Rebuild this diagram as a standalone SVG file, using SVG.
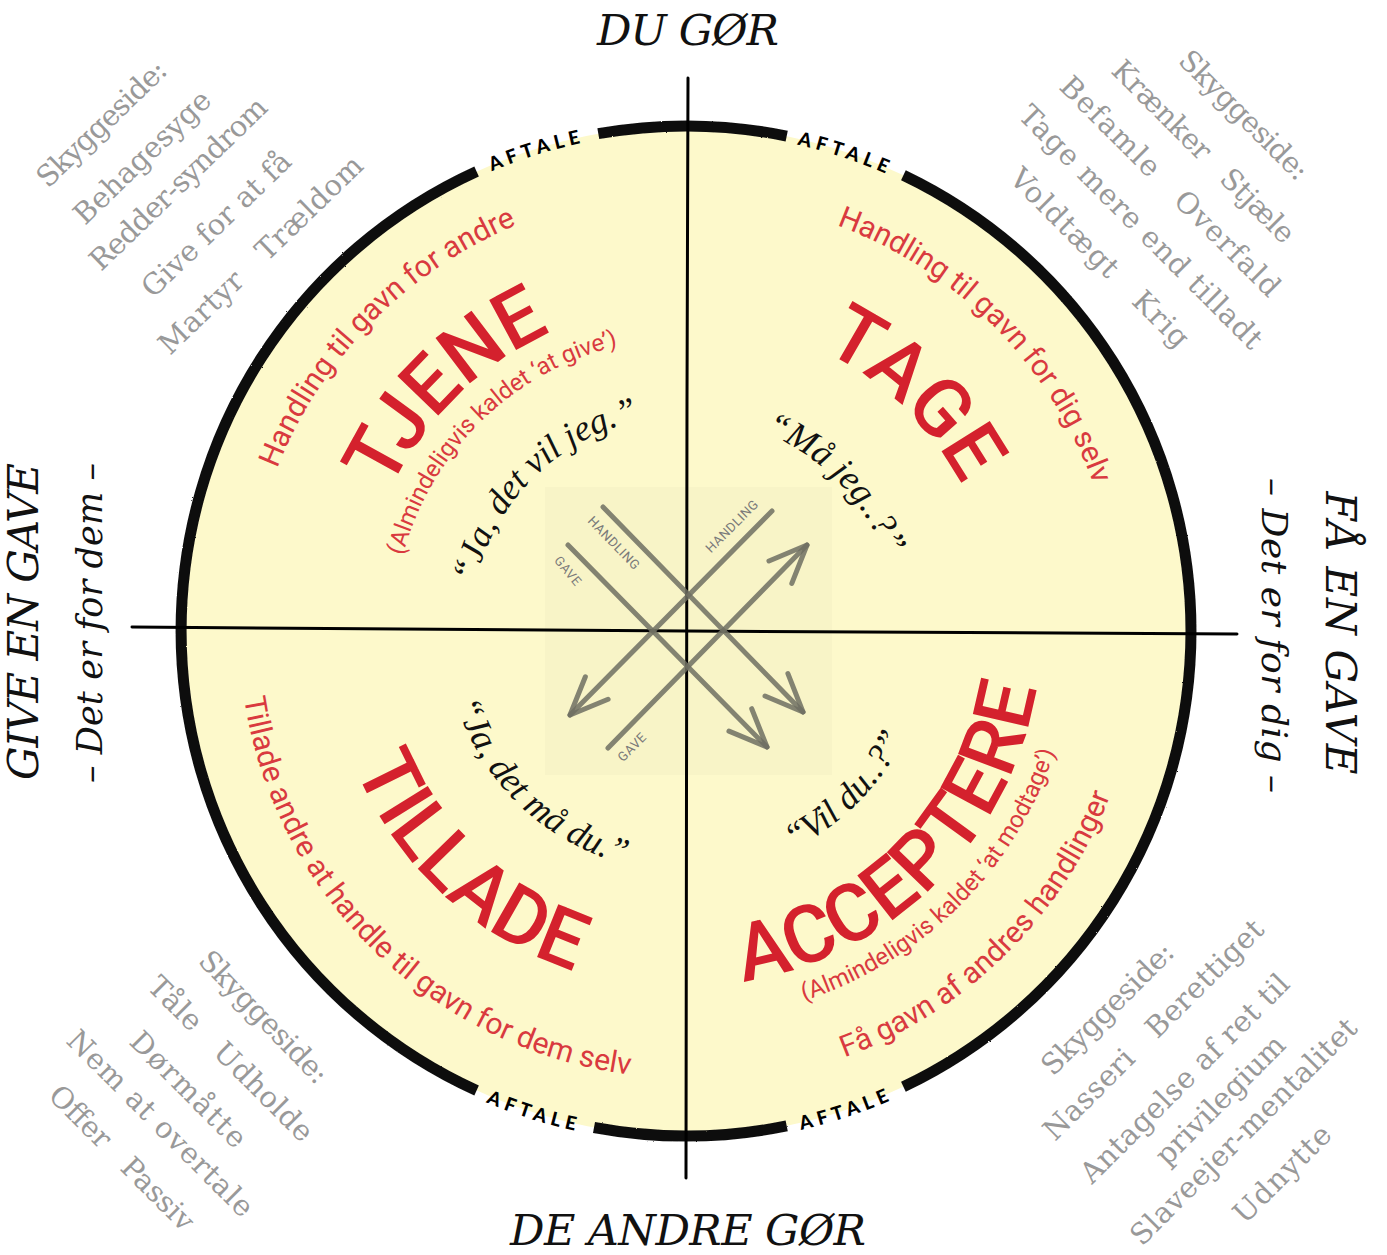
<svg xmlns="http://www.w3.org/2000/svg" width="1387" height="1255" viewBox="0 0 1387 1255">
<style>
.title{font-family:Roboto,"DejaVu Sans",sans-serif;font-weight:500;font-size:80px;fill:#d4212d}
.sub{font-family:Roboto,"DejaVu Sans",sans-serif;font-size:30px;fill:#d93a3f}
.paren{font-family:Roboto,"DejaVu Sans",sans-serif;font-size:24px;fill:#d93a3f}
.quote{font-family:"Liberation Serif",serif;font-style:italic;font-size:36px;fill:#111}
.head{font-family:"DejaVu Serif",serif;font-style:italic;fill:#111}
.gray{font-family:"DejaVu Serif",serif;font-size:29px;fill:#999}
.aftale{font-family:Lato,"DejaVu Sans",sans-serif;font-weight:900;font-size:19px;letter-spacing:5px;fill:#000}
.lbl{font-family:Roboto,sans-serif;font-size:13px;fill:#7a7a7a;letter-spacing:0.5px}
.ring{fill:none;stroke:#111;stroke-width:11}
.arrow{fill:none;stroke:#6f6f62;stroke-width:5;stroke-linecap:round;stroke-opacity:0.85}
.axis{fill:none;stroke:#000;stroke-width:3;stroke-linecap:round}
</style>
<defs>
<marker id="ah" markerUnits="userSpaceOnUse" markerWidth="60" markerHeight="60" viewBox="-50 -30 60 60" refX="0" refY="0" orient="auto" overflow="visible">
<path d="M-38,-16 L0,0 L-38,16" fill="none" stroke="#6f6f62" stroke-opacity="0.85" stroke-width="5" stroke-linecap="round" stroke-linejoin="round"/>
</marker>
<filter id="rough" x="-5%" y="-5%" width="110%" height="110%">
<feTurbulence type="fractalNoise" baseFrequency="0.8" numOctaves="1" seed="3"/>
<feDisplacementMap in="SourceGraphic" scale="2"/>
</filter>
<path id="pTjene" d="M368.45,713.12 A328,328 0 0 1 773.65,314.93"/>
<path id="pTage" d="M600,331.09 A312,312 0 0 1 988.73,706.48"/>
<path id="pTillade" d="M337.18,550.47 A358,358 0 0 0 790.67,973.36"/>
<path id="pAccept" d="M594.12,973.90 A355,355 0 0 0 1028.90,539.12"/>
<path id="pSubTL" d="M262,748.59 A440,440 0 0 1 796.17,205.01"/>
<path id="pParTL" d="M402.08,703.37 A293,293 0 0 1 765.29,348.93"/>
<path id="pSubTR" d="M576.12,212.17 A433,433 0 0 1 1103.65,745.26"/>
<path id="pSubBL" d="M252.85,520.59 A447,447 0 0 0 806.96,1061.32"/>
<path id="pParBR" d="M584.27,1005.43 A388,388 0 0 0 1061.13,531.89"/>
<path id="pSubBR" d="M565.17,1069.67 A455,455 0 0 0 1126.31,516.31"/>
<path id="pQTL" d="M477.36,686.91 A216,216 0 0 1 741.91,422.36"/>
<path id="pQTR" d="M632.67,424.78 A213,213 0 0 1 891.25,687.92"/>
<path id="pQBL" d="M451.86,573.92 A241,241 0 0 0 753.64,862.31"/>
<path id="pQBR" d="M622.29,865.50 A243,243 0 0 0 920.94,568.93"/>
<path id="pAfTL" d="M199.31,520.88 A499,499 0 0 1 1024.72,264.57"/>
<path id="pAfTR" d="M355.35,257.27 A499,499 0 0 1 1174.98,531.51"/>
<path id="pAfBL" d="M186.13,741.82 A512,512 0 0 0 1031.90,1008.49"/>
<path id="pAfBR" d="M346.74,1014.47 A512,512 0 0 0 1187.72,733.08"/>
</defs>
<rect width="1387" height="1255" fill="#fff"/>

<g id="disc">
<circle cx="686" cy="631" r="505" fill="#fdf9cb"/>
<rect x="545" y="487" width="287" height="288" fill="#d8d5b0" opacity="0.12"/>
<g filter="url(#rough)">
<path class="ring" d="M598.3,133.7 A505,505 0 0 1 786.7,136.1"/>
<path class="ring" d="M903.4,175.2 A505,505 0 0 1 903.4,1086.8"/>
<path class="ring" d="M786.7,1125.9 A505,505 0 0 1 594.0,1127.5"/>
<path class="ring" d="M476.6,1090.5 A505,505 0 0 1 476.6,171.5"/>
</g>
</g>

<g id="aftale-labels">
<text class="aftale" text-anchor="middle"><textPath href="#pAfTL" startOffset="50%">AFTALE</textPath></text>
<text class="aftale" text-anchor="middle"><textPath href="#pAfTR" startOffset="50%">AFTALE</textPath></text>
<text class="aftale" text-anchor="middle"><textPath href="#pAfBL" startOffset="50%">AFTALE</textPath></text>
<text class="aftale" text-anchor="middle"><textPath href="#pAfBR" startOffset="50%">AFTALE</textPath></text>
</g>

<g id="axes">
<path class="axis" d="M688,78 L687,400 L686,1178"/>
<path class="axis" d="M132,627 L686,631 L1237,634"/>
</g>

<g id="connectors">
<path class="arrow" d="M603,507 L803,712" marker-end="url(#ah)"/>
<path class="arrow" d="M568,545 L767,747" marker-end="url(#ah)"/>
<path class="arrow" d="M772,511 L570,715" marker-end="url(#ah)"/>
<path class="arrow" d="M608,748 L807,545" marker-end="url(#ah)"/>
<text class="lbl" text-anchor="middle" dy="0.35em" transform="translate(614,543) rotate(46)">HANDLING</text>
<text class="lbl" text-anchor="middle" dy="0.35em" transform="translate(568,571) rotate(50)">GAVE</text>
<text class="lbl" text-anchor="middle" dy="0.35em" transform="translate(732,526) rotate(-45)">HANDLING</text>
<text class="lbl" text-anchor="middle" dy="0.35em" transform="translate(632,747) rotate(-45)">GAVE</text>
</g>

<g id="tjene">
<text class="title" text-anchor="middle"><textPath href="#pTjene" startOffset="50%">TJENE</textPath></text>
<text class="sub" text-anchor="middle"><textPath href="#pSubTL" startOffset="50%">Handling til gavn for andre</textPath></text>
<text class="paren" text-anchor="middle"><textPath href="#pParTL" startOffset="50%">(Almindeligvis kaldet ‘at give’)</textPath></text>
<text class="quote" text-anchor="middle"><textPath href="#pQTL" startOffset="50%">“Ja, det vil jeg.”</textPath></text>
</g>

<g id="tage">
<text class="title" text-anchor="middle"><textPath href="#pTage" startOffset="50%">TAGE</textPath></text>
<text class="sub" text-anchor="middle"><textPath href="#pSubTR" startOffset="50%">Handling til gavn for dig selv</textPath></text>
<text class="quote" text-anchor="middle"><textPath href="#pQTR" startOffset="50%">“Må jeg..?”</textPath></text>
</g>

<g id="tillade">
<text class="title" text-anchor="middle"><textPath href="#pTillade" startOffset="50%">TILLADE</textPath></text>
<text class="sub" text-anchor="middle"><textPath href="#pSubBL" startOffset="50%">Tillade andre at handle til gavn for dem selv</textPath></text>
<text class="quote" text-anchor="middle"><textPath href="#pQBL" startOffset="50%">“Ja, det må du.”</textPath></text>
</g>

<g id="acceptere">
<text class="title" text-anchor="middle"><textPath href="#pAccept" startOffset="50%">ACCEPTERE</textPath></text>
<text class="paren" text-anchor="middle"><textPath href="#pParBR" startOffset="50%">(Almindeligvis kaldet ‘at modtage’)</textPath></text>
<text class="sub" text-anchor="middle"><textPath href="#pSubBR" startOffset="50%">Få gavn af andres handlinger</textPath></text>
<text class="quote" text-anchor="middle"><textPath href="#pQBR" startOffset="50%">“Vil du..?”</textPath></text>
</g>

<g id="axis-labels">
<text class="head" font-size="43" x="688" y="45" text-anchor="middle" textLength="182">DU GØR</text>
<text class="head" font-size="43" x="688" y="1245" text-anchor="middle" textLength="356">DE ANDRE GØR</text>
<text class="head" font-size="42" text-anchor="middle" textLength="317" transform="translate(38,621.5) rotate(-90)">GIVE EN GAVE</text>
<text class="head" font-size="35" text-anchor="middle" textLength="320" transform="translate(102,623) rotate(-90)">– Det er for dem –</text>
<text class="head" font-size="42" text-anchor="middle" textLength="283" transform="translate(1326,633) rotate(90)">FÅ EN GAVE</text>
<text class="head" font-size="36" text-anchor="middle" textLength="315" transform="translate(1262,635.5) rotate(90)">– Det er for dig –</text>
</g>

<g id="shadow-tjene">
<text class="gray" transform="translate(48,189) rotate(-44)" textLength="168">Skyggeside:</text>
<text class="gray" transform="translate(85,226) rotate(-44)" textLength="178">Behagesyge</text>
<text class="gray" transform="translate(101,272) rotate(-44)" textLength="234">Redder-syndrom</text>
<text class="gray" transform="translate(153,299) rotate(-44)" textLength="195">Give for at få</text>
<text class="gray" transform="translate(170,356) rotate(-44)" textLength="271">Martyr&#160;&#160;&#160;Trældom</text>
</g>

<g id="shadow-tage">
<text class="gray" transform="translate(1177,62) rotate(45)" textLength="170">Skyggeside:</text>
<text class="gray" transform="translate(1110,72) rotate(45)" textLength="245">Krænker&#160;&#160;&#160;Stjæle</text>
<text class="gray" transform="translate(1058,88) rotate(45)" textLength="298">Befamle&#160;&#160;&#160;Overfald</text>
<text class="gray" transform="translate(1017,117) rotate(45)" textLength="331">Tage mere end tilladt</text>
<text class="gray" transform="translate(1008,180) rotate(45)" textLength="240">Voldtægt&#160;&#160;&#160;Krig</text>
</g>

<g id="shadow-tillade">
<text class="gray" transform="translate(197,962) rotate(46)" textLength="172">Skyggeside:</text>
<text class="gray" transform="translate(146,988) rotate(45)" textLength="220">Tåle&#160;&#160;&#160;Udholde</text>
<text class="gray" transform="translate(128,1043) rotate(45)" textLength="151">Dørmåtte</text>
<text class="gray" transform="translate(65,1042) rotate(45)" textLength="250">Nem at overtale</text>
<text class="gray" transform="translate(47,1097) rotate(45)" textLength="192">Offer&#160;&#160;&#160;Passiv</text>
</g>

<g id="shadow-acceptere">
<text class="gray" transform="translate(1053,1077) rotate(-45)" textLength="174">Skyggeside:</text>
<text class="gray" transform="translate(1055,1142) rotate(-45)" textLength="298">Nasseri&#160;&#160;&#160;Berettiget</text>
<text class="gray" transform="translate(1092,1185) rotate(-45)" textLength="282">Antagelse af ret til</text>
<text class="gray" transform="translate(1167,1167) rotate(-45)" textLength="170">privilegium</text>
<text class="gray" transform="translate(1142,1247) rotate(-45)" textLength="307">Slaveejer-mentalitet</text>
<text class="gray" transform="translate(1245,1225) rotate(-45)" textLength="125">Udnytte</text>
</g>
</svg>
